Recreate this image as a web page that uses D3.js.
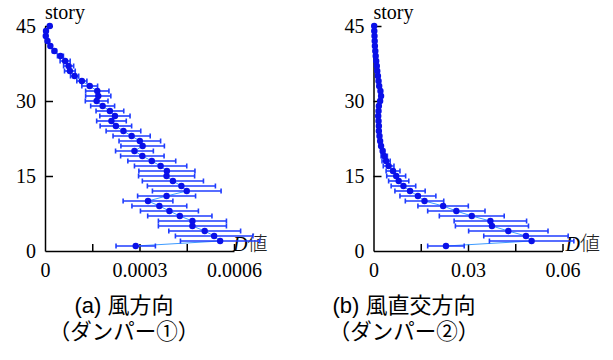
<!DOCTYPE html>
<html>
<head>
<meta charset="utf-8">
<script src="https://cdn.jsdelivr.net/npm/d3@7"></script>
<style>
  body { margin: 0; background: #fff; }
</style>
</head>
<body>
<script>
// Stories (1 = bottom, 45 = top)
var stories = [1, 2, 3, 4, 5, 6, 7, 8, 9, 10, 11, 12, 13, 14, 15, 16, 17, 18, 19, 20,
  21, 22, 23, 24, 25, 26, 27, 28, 29, 30, 31, 32, 33, 34, 35, 36, 37, 38, 39, 40,
  41, 42, 43, 44, 45];

// (a) wind direction, damper 1: D value and error half-width per story
var windD = [0.000288, 0.000556, 0.000537, 0.000507, 0.000468, 0.000468, 0.000428, 0.000395, 0.000363, 0.000327,
  0.000386, 0.000450, 0.000433, 0.000406, 0.000386, 0.000387, 0.000367, 0.000339, 0.000309, 0.000284,
  0.000310, 0.000301, 0.000275, 0.000249, 0.000225, 0.000211, 0.000222, 0.000206, 0.000183, 0.000164,
  0.000169, 0.000166, 0.000142, 0.000117, 0.000094, 0.000079, 0.000075, 0.000064, 0.000049, 0.000030,
  0.000017, 0.000008, 0.0000025, 0.0000032, 0.000015];
var windErr = [0.0000625, 0.000126, 0.000123, 0.000114, 0.000108, 0.000108, 0.000102, 0.000092, 0.000087, 0.000079,
  0.000092, 0.000109, 0.000108, 0.000097, 0.000089, 0.000089, 0.000083, 0.000076, 0.000069, 0.000060,
  0.000069, 0.000066, 0.000059, 0.000055, 0.000050, 0.000047, 0.000048, 0.000044, 0.000038, 0.000036,
  0.000040, 0.000037, 0.000025, 0.000016, 0.000013, 0.000017, 0.000016, 0.000016, 0.0000095, 0.0000064,
  0.000003, 0.000002, 0.000002, 0.000002, 0.000002];

// (b) across-wind direction, damper 2
var crossD = [0.0230, 0.0502, 0.0484, 0.0428, 0.0376, 0.0371, 0.0312, 0.0263, 0.0221, 0.0162,
  0.0141, 0.0116, 0.0095, 0.0080, 0.0072, 0.0062, 0.0048, 0.0040, 0.0034, 0.0029,
  0.0024, 0.0021, 0.0019, 0.0017, 0.0017, 0.0016, 0.0015, 0.0016, 0.0017, 0.0021,
  0.0024, 0.0022, 0.0018, 0.0016, 0.0014, 0.0012, 0.00105, 0.00086, 0.0007, 0.00057,
  0.00044, 0.00038, 0.00032, 0.00025, 0.00022];
var crossErr = [0.0058, 0.0134, 0.0134, 0.0126, 0.0116, 0.0115, 0.0103, 0.0091, 0.0080, 0.0061,
  0.0057, 0.0048, 0.0039, 0.0032, 0.0030, 0.0022, 0.0017, 0.0013, 0.0010, 0.0006,
  0.0003, 0.0003, 0.0003, 0.0003, 0.0003, 0.0003, 0.0003, 0.0003, 0.0003, 0.0003,
  0.0003, 0.0003, 0.0003, 0.0003, 0.0003, 0.0003, 0.0003, 0.0003, 0.0003, 0.0003,
  0.0003, 0.0003, 0.0003, 0.0003, 0.0003];

// Axis ticks and labels
var yLabels = [0, 15, 30, 45];
var windTicks = [0.00015, 0.0003, 0.00045, 0.0006];
var windLabels = [0, 0.0003, 0.0006];
var crossTicks = [0.015, 0.03, 0.045, 0.06];
var crossLabels = [0, 0.03, 0.06];

var svgWidth = 613;
var svgHeight = 360;
var svg = d3.select("body").append("svg").attr("width", svgWidth).attr("height", svgHeight);

var serif = '"Liberation Serif", "Times New Roman", serif';
var cjk = '"Liberation Sans", "Noto Sans CJK JP", sans-serif';

var panels = [
  {left: 45, max: 0.0006, values: windD, errors: windErr, ticks: windTicks, labels: windLabels,
   dShift: -1, capX: 124, cap1: "(a) 風方向", cap2: "（ダンパー①）"},
  {left: 373.5, max: 0.06, values: crossD, errors: crossErr, ticks: crossTicks, labels: crossLabels,
   dShift: 3, capX: 404, cap1: "(b) 風直交方向", cap2: "（ダンパー②）"}
];

var yScale = d3.scaleLinear().domain([0, 45]).range([251, 26]);

function drawPanel(p) {
  var xScale = d3.scaleLinear().domain([0, p.max]).range([p.left, p.left + 189]);
  var g = svg.append("g");
  var rows = stories.map((s, i) => ({story: s, v: p.values[i], e: p.errors[i]}));

  // y axis: inward ticks with labels
  var yAxis = g.append("g").attr("transform", `translate(${p.left},0)`)
    .call(d3.axisLeft(yScale).tickValues(yLabels).tickSizeInner(-8).tickSizeOuter(0).tickPadding(9));
  yAxis.selectAll(".tick line").filter(d => d === 0).remove();
  yAxis.selectAll("text").attr("font-family", serif).attr("font-size", 20).attr("fill", "#000");

  // x axis: inward ticks, labels placed separately
  g.append("g").attr("transform", `translate(0,${yScale(0)})`)
    .call(d3.axisBottom(xScale).tickValues(p.ticks).tickSizeInner(-7).tickSizeOuter(0).tickFormat(""));
  g.append("g").attr("transform", `translate(0,${yScale(0)})`)
    .call(d3.axisBottom(xScale).tickValues(p.labels).tickSize(0).tickPadding(12).tickFormat(d => String(d)))
    .call(a => a.select(".domain").remove())
    .selectAll("text").attr("font-family", serif).attr("font-size", 20).attr("fill", "#000");

  g.selectAll(".domain, .tick line").attr("stroke", "#000").attr("stroke-width", 1.5);

  g.append("text").attr("x", p.left).attr("y", 19)
    .attr("font-family", serif).attr("font-size", 20).text("story");

  var dl = g.append("text").attr("x", xScale(p.max) + p.dShift).attr("y", yScale(0))
    .attr("font-size", 20);
  dl.append("tspan").attr("font-family", serif).attr("font-style", "italic").text("D");
  dl.append("tspan").attr("font-family", '"Noto Sans CJK JP", sans-serif').attr("font-weight", 300)
    .attr("fill", "#222").text("値");

  // connecting line
  var line = d3.line().x(d => xScale(d.v)).y(d => yScale(d.story));
  g.append("path").datum(rows).attr("d", line)
    .attr("fill", "none").attr("stroke", "#3d9bff").attr("stroke-width", 1);

  // error bars
  var bars = g.append("g").attr("stroke", "#1f3cff").attr("stroke-width", 1.6);
  bars.selectAll(".bar").data(rows).enter().append("line")
    .attr("x1", d => xScale(d.v - d.e)).attr("x2", d => xScale(d.v + d.e))
    .attr("y1", d => yScale(d.story)).attr("y2", d => yScale(d.story));
  bars.selectAll(".capL").data(rows).enter().append("line")
    .attr("x1", d => xScale(d.v - d.e)).attr("x2", d => xScale(d.v - d.e))
    .attr("y1", d => yScale(d.story) - 2.5).attr("y2", d => yScale(d.story) + 2.5);
  bars.selectAll(".capR").data(rows).enter().append("line")
    .attr("x1", d => xScale(d.v + d.e)).attr("x2", d => xScale(d.v + d.e))
    .attr("y1", d => yScale(d.story) - 2.5).attr("y2", d => yScale(d.story) + 2.5);

  // points
  g.selectAll("circle").data(rows).enter().append("circle")
    .attr("cx", d => xScale(d.v)).attr("cy", d => yScale(d.story))
    .attr("r", 3.2).attr("fill", "#0a10e8");

  // captions
  g.append("text").attr("x", p.capX).attr("y", 313).attr("text-anchor", "middle")
    .attr("font-family", cjk).attr("font-size", 22).text(p.cap1);
  g.append("text").attr("x", p.capX).attr("y", 339).attr("text-anchor", "middle")
    .attr("font-family", cjk).attr("font-size", 21.5).text(p.cap2);
}

panels.forEach(drawPanel);
</script>
</body>
</html>
